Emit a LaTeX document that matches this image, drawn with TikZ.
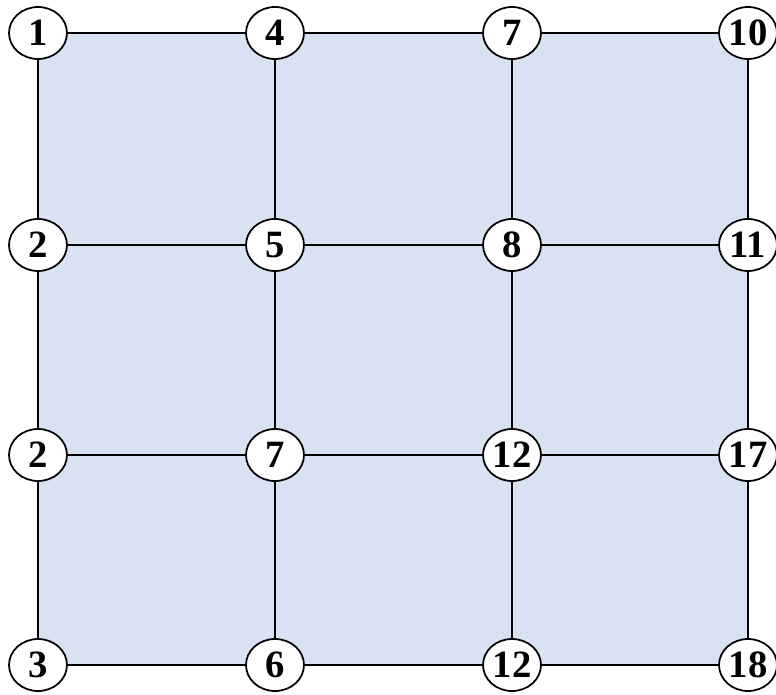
\documentclass[tikz,border=0pt]{standalone}
\usepackage{fontspec}
\setmainfont{Liberation Serif}
\usetikzlibrary{shapes.geometric, backgrounds}
\definecolor{cellblue}{HTML}{D9E2F3}

\begin{document}
\begin{tikzpicture}[x=0.02cm, y=-0.02cm,
			num/.style={draw, ellipse, fill=white, line width=1pt, minimum width=1.16cm, minimum height=1.04cm, inner sep=0pt, font=\fontsize{22}{22}\selectfont\bfseries},
			edge/.style={line width=1.1pt}]
			\useasboundingbox (0,0) rectangle (776,695);
			% Knoten (Spalte, Zeile)
			\node[num] (n11) at (38,33) {1};
			\node[num] (n21) at (275,33) {4};
			\node[num] (n31) at (512,33) {7};
			\node[num] (n41) at (748,33) {10};
			\node[num] (n12) at (38,245) {2};
			\node[num] (n22) at (275,245) {5};
			\node[num] (n32) at (512,245) {8};
			\node[num] (n42) at (748,245) {11};
			\node[num] (n13) at (38,455) {2};
			\node[num] (n23) at (275,455) {7};
			\node[num] (n33) at (512,455) {12};
			\node[num] (n43) at (748,455) {17};
			\node[num] (n14) at (38,665) {3};
			\node[num] (n24) at (275,665) {6};
			\node[num] (n34) at (512,665) {12};
			\node[num] (n44) at (748,665) {18};
			% Hintergrund
			\begin{scope}[on background layer]
				\fill[cellblue] (n11.center) rectangle (n44.center);
			\end{scope}
			% Kanten
			\foreach \r in {1,...,4} \draw[edge] (n1\r) -- (n2\r) -- (n3\r) -- (n4\r);
			\foreach \c in {1,...,4} \draw[edge] (n\c1) -- (n\c2) -- (n\c3) -- (n\c4);
		\end{tikzpicture}
\end{document}
